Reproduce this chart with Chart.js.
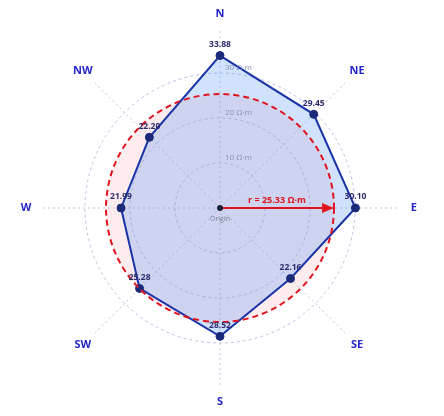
<!DOCTYPE html>
<html>
<head>
<meta charset="utf-8">
<script src="https://cdn.jsdelivr.net/npm/chart.js@4.4.1/dist/chart.umd.min.js"></script>
<style>
  html, body { margin: 0; padding: 0; background: #ffffff; }
  #wrap { width: 444px; height: 416px; position: relative; }
</style>
</head>
<body>
<div id="wrap"><canvas id="c" width="444" height="416"></canvas></div>
<script>
const directions = ['N', 'NE', 'E', 'SE', 'S', 'SW', 'W', 'NW'];
const resistivity = [33.88, 29.45, 30.10, 22.16, 28.52, 25.28, 21.99, 22.20];
const ringTicks = [10, 20, 30];
const tickUnit = 'Ω·m';
const circleRadiusValue = 25.33;
const scaleMax = 40;
const labelRadiusValue = 43.1;

const FONT = '"Open Sans", "Noto Sans", "DejaVu Sans", sans-serif';

const overlay = {
  id: 'overlay',
  beforeDatasetsDraw(chart) {
    const s = chart.scales.r;
    const ctx = chart.ctx;
    const rad = s.getDistanceFromCenterForValue(circleRadiusValue);
    ctx.save();
    ctx.beginPath();
    ctx.arc(s.xCenter, s.yCenter, rad, 0, Math.PI * 2);
    ctx.fillStyle = 'rgba(240,70,80,0.10)';
    ctx.fill();
    ctx.restore();
  },
  afterDatasetsDraw(chart) {
    const s = chart.scales.r;
    const ctx = chart.ctx;
    const cx = s.xCenter, cy = s.yCenter;
    const rad = s.getDistanceFromCenterForValue(circleRadiusValue);
    ctx.save();
    // dashed red circle
    ctx.beginPath();
    ctx.arc(cx, cy, rad, 0, Math.PI * 2);
    ctx.strokeStyle = '#e0141e';
    ctx.lineWidth = 2;
    ctx.setLineDash([6, 4]);
    ctx.stroke();
    ctx.setLineDash([]);
    // arrow
    const ex = cx + rad;
    ctx.strokeStyle = '#e0141e';
    ctx.fillStyle = '#e0141e';
    ctx.lineWidth = 2;
    ctx.beginPath();
    ctx.moveTo(cx, cy);
    ctx.lineTo(ex - 10, cy);
    ctx.stroke();
    ctx.beginPath();
    ctx.moveTo(ex, cy);
    ctx.lineTo(ex - 12, cy - 5);
    ctx.lineTo(ex - 12, cy + 5);
    ctx.closePath();
    ctx.fill();
    // arrow label
    ctx.font = 'bold 9px ' + FONT;
    ctx.textAlign = 'center';
    ctx.textBaseline = 'middle';
    ctx.fillText('r = ' + circleRadiusValue.toFixed(2) + ' ' + tickUnit, (cx + ex) / 2, cy - 8);
    // origin
    ctx.beginPath();
    ctx.arc(cx, cy, 3, 0, Math.PI * 2);
    ctx.fillStyle = '#1c1f3a';
    ctx.fill();
    ctx.font = '7px ' + FONT;
    ctx.fillStyle = '#7a7f96';
    ctx.fillText('Origin', cx, cy + 11);
    // ring tick labels
    ctx.font = '8px ' + FONT;
    ctx.textAlign = 'left';
    ctx.fillStyle = 'rgba(130,135,170,0.9)';
    ringTicks.forEach(v => {
      const d = s.getDistanceFromCenterForValue(v);
      ctx.fillText(v + ' ' + tickUnit, cx + 5, cy - d - 5);
    });
    // value labels
    const meta = chart.getDatasetMeta(0);
    ctx.font = 'bold 8.5px ' + FONT;
    ctx.textAlign = 'center';
    ctx.fillStyle = '#2e2b6e';
    meta.data.forEach((pt, i) => {
      ctx.fillText(resistivity[i].toFixed(2), pt.x, pt.y - 11);
    });
    // direction labels
    ctx.font = 'bold 11px ' + FONT;
    ctx.fillStyle = '#2626c8';
    directions.forEach((d, i) => {
      const p = s.getPointPositionForValue(i, labelRadiusValue);
      ctx.fillText(d, p.x, p.y);
    });
    ctx.restore();
  }
};

new Chart(document.getElementById('c'), {
  type: 'radar',
  data: {
    labels: directions,
    datasets: [{
      data: resistivity,
      borderColor: '#1a34a8',
      borderWidth: 2,
      backgroundColor: 'rgba(100,160,245,0.30)',
      fill: true,
      pointRadius: 4,
      pointBackgroundColor: '#1b2a78',
      pointBorderColor: '#1b2a78',
      pointBorderWidth: 1,
      tension: 0
    }]
  },
  options: {
    responsive: false,
    animation: false,
    devicePixelRatio: 1,
    layout: { padding: { left: 26, right: 30, top: 28, bottom: 28 } },
    plugins: { legend: { display: false }, tooltip: { enabled: false } },
    scales: {
      r: {
        min: 0,
        max: scaleMax,
        ticks: { stepSize: 10, display: false },
        pointLabels: { display: false },
        grid: {
          circular: true,
          lineWidth: 1,
          color: (c) => (c.tick && c.tick.value >= scaleMax) ? 'rgba(0,0,0,0)' : 'rgba(160,170,215,0.7)'
        },
        border: { dash: [3, 3] },
        angleLines: {
          color: 'rgba(165,175,210,0.7)',
          lineWidth: 1,
          borderDash: [2, 3]
        }
      }
    }
  },
  plugins: [overlay]
});
</script>
</body>
</html>
